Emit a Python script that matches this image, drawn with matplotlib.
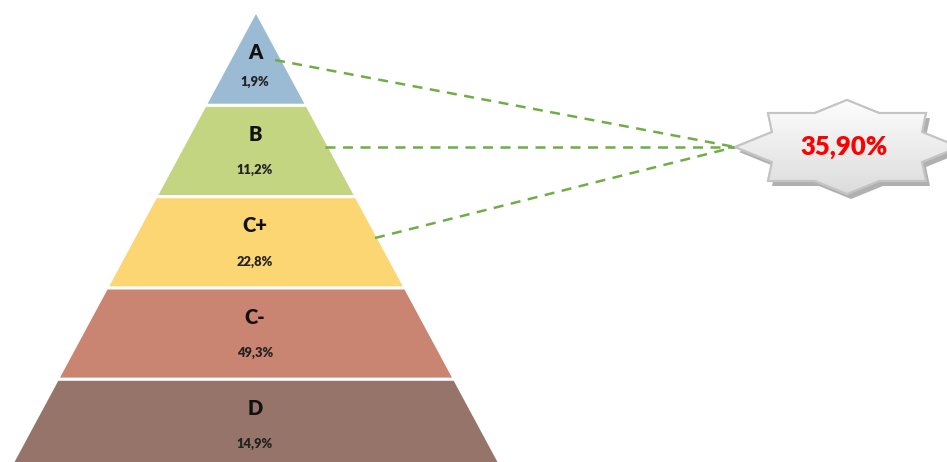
import matplotlib
matplotlib.use("Agg")
import matplotlib.pyplot as plt
from matplotlib.patches import Polygon
import numpy as np

# ---- data ----
categories = ["A", "B", "C+", "C-", "D"]
shares = ["1,9%", "11,2%", "22,8%", "49,3%", "14,9%"]
colors = ["#9bbbd4", "#c3d580", "#fcd673", "#c98472", "#97746a"]
callout_text = "35,90%"
linked = ["A", "B", "C+"]  # layers joined to the callout

plt.rcParams['font.family'] = ['Lato', 'DejaVu Sans']

W, H = 947, 462
fig = plt.figure(figsize=(W / 100, H / 100), dpi=100)
ax = fig.add_axes([0, 0, 1, 1])
ax.set_xlim(0, W)
ax.set_ylim(H, 0)
ax.axis("off")

# pyramid geometry
cx = 256
apex_y = 14
layer_h = 91.3
slope = 0.539  # half-width per pixel of depth
gap = 1.6

n = len(categories)
for i, (cat, sh, col) in enumerate(zip(categories, shares, colors)):
    y0 = apex_y + i * layer_h + (gap if i > 0 else 0)
    y1 = apex_y + (i + 1) * layer_h - gap
    w0 = (y0 - apex_y) * slope
    w1 = (y1 - apex_y) * slope
    poly = Polygon([(cx - w0, y0), (cx + w0, y0), (cx + w1, y1), (cx - w1, y1)],
                   closed=True, facecolor=col, edgecolor="none", zorder=2)
    ax.add_patch(poly)
    ym = apex_y + i * layer_h
    f_lab = 0.42 if i == 0 else 0.32
    f_pct = 0.74 if i == 0 else 0.71
    ax.text(cx - 1, ym + f_lab * layer_h, cat, ha="center", va="center",
            fontsize=14.5, fontweight="heavy", color="#111111", zorder=3)
    ax.text(cx - 1, ym + f_pct * layer_h, sh, ha="center", va="center",
            fontsize=9.3, fontweight="heavy", color="#222222", zorder=3)

# callout star
sx, sy = 847, 147
star = np.array([
    (-112, 0), (-75, -15), (-79, -34), (-32, -34), (0, -47), (32, -34),
    (79, -34), (75, -15), (112, 0), (75, 15), (79, 34), (32, 34),
    (0, 47), (-32, 34), (-79, 34), (-75, 15)
], dtype=float)
shadow = Polygon(star + [sx + 4, sy + 5], closed=True, facecolor="#b0b0b0",
                 edgecolor="none", zorder=4)
ax.add_patch(shadow)
body = Polygon(star + [sx, sy], closed=True, facecolor="#f0f0f0",
               edgecolor="#c4c4c4", linewidth=1.5, zorder=5)
ax.add_patch(body)
grad = np.linspace(0, 1, 100).reshape(-1, 1)
im = ax.imshow(grad, extent=[sx - 112, sx + 112, sy + 47, sy - 47],
               cmap=matplotlib.colors.LinearSegmentedColormap.from_list(
                   "g", ["#fdfdfd", "#dcdcdc"]), aspect="auto", zorder=5.5)
im.set_clip_path(body)
ax.add_patch(Polygon(star + [sx, sy], closed=True, facecolor="none",
                     edgecolor="#c4c4c4", linewidth=1.5, zorder=6))
ax.text(sx - 3, sy, callout_text, ha="center", va="center", fontsize=18.5,
        fontweight="heavy", color="#ff0000", zorder=7)

# dashed connectors
tip = (sx - 112, sy)
starts_x = {"A": 275, "B": 325, "C+": 375}
starts_y = {"A": 60, "B": 147, "C+": 238}
for cat in linked:
    ax.plot([starts_x[cat], tip[0]], [starts_y[cat], tip[1]], linestyle=(0, (4, 3)),
            color="#70ad47", linewidth=1.8, zorder=3.5)

fig.savefig("out.png", dpi=100)
